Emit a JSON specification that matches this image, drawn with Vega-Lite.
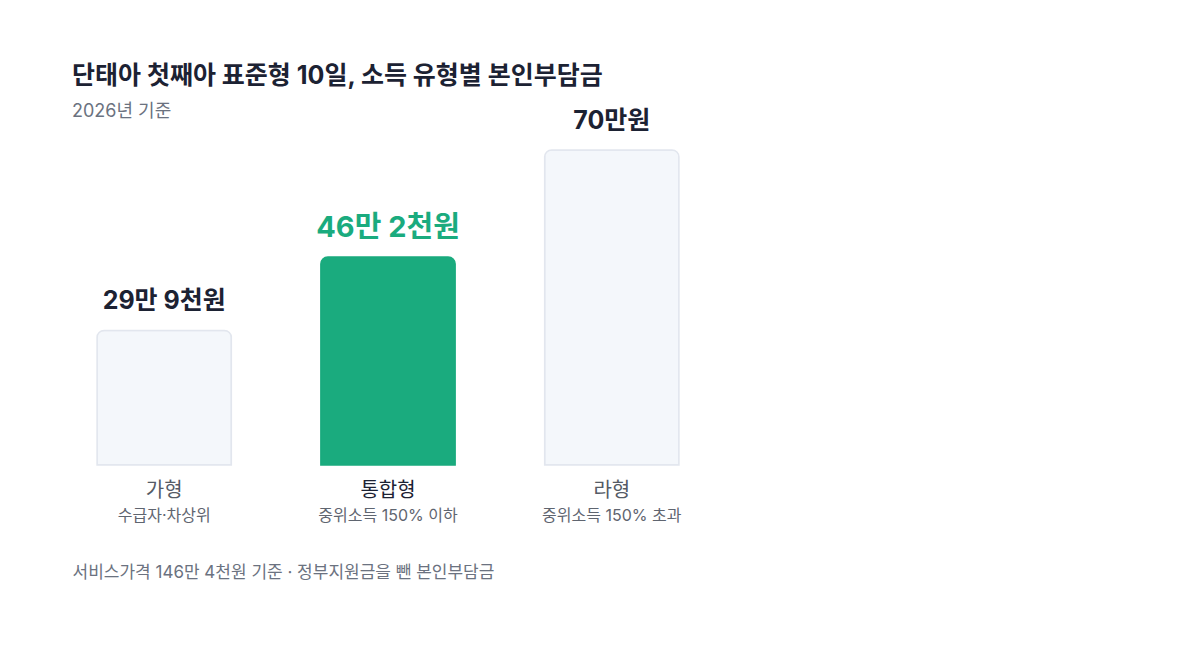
{
  "$schema": "https://vega.github.io/schema/vega-lite/v6.json",
  "autosize": {"type": "none"},
  "width": 632,
  "height": 315,
  "padding": {"left": 72, "top": 150, "right": 496, "bottom": 191},
  "background": "#ffffff",
  "config": {
    "view": {"stroke": null},
    "font": "Inter, Noto Sans CJK KR"
  },
  "title": {
    "text": "단태아 첫째아 표준형 10일, 소득 유형별 본인부담금",
    "subtitle": "2026년 기준",
    "anchor": "start",
    "frame": "group",
    "font": "Inter, Noto Sans CJK KR",
    "fontSize": 25,
    "fontWeight": "bold",
    "color": "#1c2233",
    "subtitleFont": "Inter, Noto Sans CJK KR",
    "subtitleFontSize": 18,
    "subtitleColor": "#6b7280",
    "subtitlePadding": 14,
    "offset": -12
  },
  "data": {
    "values": [
      {"type": "가형", "sub": "수급자·차상위", "value": 29.9, "label": "29만 9천원"},
      {"type": "통합형", "sub": "중위소득 150% 이하", "value": 46.2, "label": "46만 2천원"},
      {"type": "라형", "sub": "중위소득 150% 초과", "value": 70, "label": "70만원"}
    ]
  },
  "encoding": {
    "x": {
      "field": "type",
      "type": "nominal",
      "sort": null,
      "scale": {"paddingInner": 0.4, "paddingOuter": 0.112},
      "axis": {
        "title": "서비스가격 146만 4천원 기준 · 정부지원금을 뺀 본인부담금",
        "labels": false,
        "ticks": false,
        "domain": false,
        "titleAnchor": "start",
        "titleAlign": "left",
        "titleX": 0,
        "titleY": 107,
        "titleBaseline": "middle",
        "titleFont": "Inter, Noto Sans CJK KR",
        "titleFontSize": 17,
        "titleFontWeight": "normal",
        "titleColor": "#6b7280"
      }
    }
  },
  "layer": [
    {
      "mark": {"type": "bar", "cornerRadiusTopLeft": 7, "cornerRadiusTopRight": 7, "strokeWidth": 1.5},
      "encoding": {
        "y": {"field": "value", "type": "quantitative", "scale": {"domain": [0, 70], "nice": false}, "axis": null},
        "fill": {"condition": {"test": "datum.type === '통합형'", "value": "#1aab7e"}, "value": "#f4f7fb"},
        "stroke": {"condition": {"test": "datum.type === '통합형'", "value": "#1aab7e"}, "value": "#e2e6ee"}
      }
    },
    {
      "mark": {"type": "text", "baseline": "middle", "align": "center", "dy": -29, "fontWeight": "bold", "font": "Inter, Noto Sans CJK KR"},
      "encoding": {
        "y": {"field": "value", "type": "quantitative"},
        "text": {"field": "label"},
        "size": {"condition": {"test": "datum.type === '통합형'", "value": 29}, "value": 25},
        "color": {"condition": {"test": "datum.type === '통합형'", "value": "#1aab7e"}, "value": "#1c2233"}
      }
    },
    {
      "mark": {"type": "text", "baseline": "middle", "align": "center", "dy": 26, "fontSize": 20, "font": "Inter, Noto Sans CJK KR"},
      "encoding": {
        "y": {"datum": 0, "type": "quantitative"},
        "text": {"field": "type"},
        "fontWeight": {"condition": {"test": "datum.type === '통합형'", "value": "bold"}, "value": "normal"},
        "color": {"condition": {"test": "datum.type === '통합형'", "value": "#1c2233"}, "value": "#555b66"}
      }
    },
    {
      "mark": {"type": "text", "baseline": "middle", "align": "center", "dy": 51, "fontSize": 16, "font": "Inter, Noto Sans CJK KR", "color": "#5f6570"},
      "encoding": {
        "y": {"datum": 0, "type": "quantitative"},
        "text": {"field": "sub"}
      }
    }
  ]
}
